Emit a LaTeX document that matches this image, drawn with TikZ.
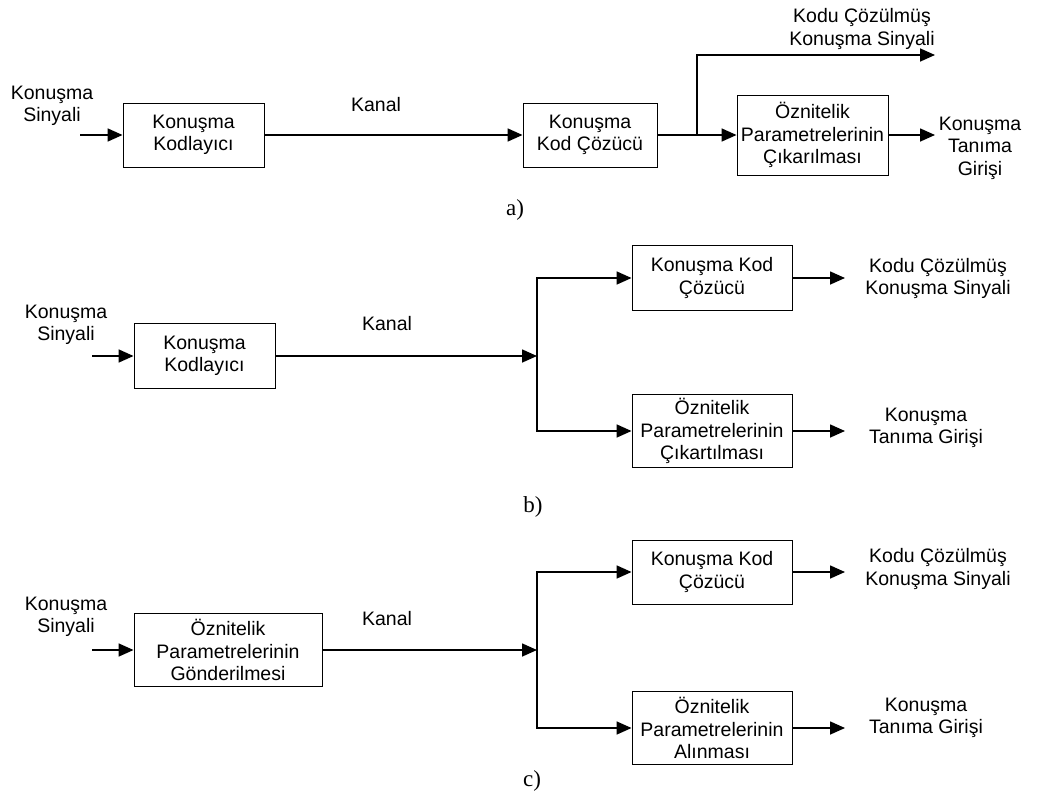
\documentclass[tikz,border=0pt]{standalone}
\usepackage{fontspec}
\setmainfont{Liberation Sans}
\newfontfamily\capfont{Liberation Serif}
\usetikzlibrary{arrows.meta}
\begin{document}
\begin{tikzpicture}[x=1pt,y=-1pt,
  every node/.style={font=\fontsize{19.5}{22.5}\selectfont, align=center, inner sep=0pt},
  blk/.style={draw, line width=0.9pt, minimum width=#1},
  blk/.default=150pt,
  two/.style={minimum height=64pt},
  three/.style={minimum height=73pt},
  lbl/.style={},
  captxt/.style={font=\capfont\fontsize{23}{26}\selectfont},
  arr/.style={line width=1.6pt, -{Triangle[length=15pt,width=13pt]}},
  ln/.style={line width=1.6pt}]
\useasboundingbox (0,0) rectangle (1059,800);

% ---------------- a) ----------------
\node[lbl] (ain) at (52,106) {Konuşma\\Sinyali};
\coordinate (ainS) at (80,135);
\node[blk=141pt, two] (a1) at (193.5,135) {Konuşma\\Kodlayıcı};
\node[lbl] (akanal) at (376,105) {Kanal};
\node[blk=134pt, two] (a2) at (590,135) {Konuşma\\Kod Çözücü};
\coordinate (abr) at (697,135);
\node[blk=151pt, minimum height=80pt] (a3) at (812.5,135) {Öznitelik\\Parametrelerinin\\Çıkarılması};
\coordinate (aup) at (697,55);
\coordinate (aout1) at (935,55);
\coordinate (aout2) at (935,135);
\node[lbl] (adec) at (862,29) {Kodu Çözülmüş\\Konuşma Sinyali};
\node[lbl] (arec) at (980,148) {Konuşma\\Tanıma\\Girişi};
\node[captxt] (acap) at (515,210) {a)};

\draw[arr] (ainS) -- (a1.west);
\draw[arr] (a1.east) -- (a2.west);
\draw[ln] (a2.east) -- (abr);
\draw[arr] (abr) -- (a3.west);
\draw[arr] (abr) -- (aup) -- (aout1);
\draw[arr] (a3.east) -- (aout2);

% ---------------- b) ----------------
\node[lbl] (bin) at (66,325) {Konuşma\\Sinyali};
\coordinate (binS) at (92,356);
\node[blk=141pt, minimum height=65pt] (b1) at (204.5,356) {Konuşma\\Kodlayıcı};
\node[lbl] (bkanal) at (387,324) {Kanal};
\coordinate (bbr) at (537,356);
\node[blk=160pt, minimum height=65pt] (b2) at (712,278) {Konuşma Kod\\Çözücü};
\node[blk=160pt, three] (b3) at (712,431) {Öznitelik\\Parametrelerinin\\Çıkartılması};
\coordinate (bout1) at (845,278);
\coordinate (bout2) at (845,431);
\node[lbl] (bdec) at (938,278.5) {Kodu Çözülmüş\\Konuşma Sinyali};
\node[lbl] (brec) at (926,428) {Konuşma\\Tanıma Girişi};
\node[captxt] (bcap) at (533,507) {b)};

\draw[arr] (binS) -- (b1.west);
\draw[arr] (b1.east) -- (bbr);
\draw[arr] (bbr) |- (b2.west);
\draw[arr] (bbr) |- (b3.west);
\draw[arr] (b2.east) -- (bout1);
\draw[arr] (b3.east) -- (bout2);

% ---------------- c) ----------------
\node[lbl] (cin) at (66,617) {Konuşma\\Sinyali};
\coordinate (cinS) at (92,650);
\node[blk=188pt, three] (c1) at (228,650) {Öznitelik\\Parametrelerinin\\Gönderilmesi};
\node[lbl] (ckanal) at (387,619) {Kanal};
\coordinate (cbr) at (537,650);
\node[blk=160pt, two] (c2) at (712,572) {Konuşma Kod\\Çözücü};
\node[blk=160pt, three] (c3) at (712,728) {Öznitelik\\Parametrelerinin\\Alınması};
\coordinate (cout1) at (845,572);
\coordinate (cout2) at (845,728);
\node[lbl] (cdec) at (938,569) {Kodu Çözülmüş\\Konuşma Sinyali};
\node[lbl] (crec) at (926,718) {Konuşma\\Tanıma Girişi};
\node[captxt] (ccap) at (532,781) {c)};

\draw[arr] (cinS) -- (c1.west);
\draw[arr] (c1.east) -- (cbr);
\draw[arr] (cbr) |- (c2.west);
\draw[arr] (cbr) |- (c3.west);
\draw[arr] (c2.east) -- (cout1);
\draw[arr] (c3.east) -- (cout2);
\end{tikzpicture}
\end{document}
